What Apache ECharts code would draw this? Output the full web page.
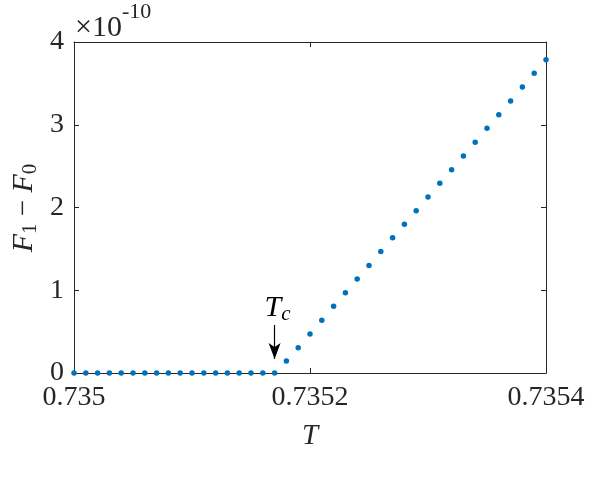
<!DOCTYPE html>
<html><head><meta charset="utf-8">
<script src="https://cdn.jsdelivr.net/npm/echarts@6/dist/echarts.min.js"></script>
<style>html,body{margin:0;padding:0;background:#fff}#c{width:598px;height:484px}</style>
</head><body><div id="c"></div>
<script>
// Temperature samples (T)
const tValues = [0.73500,0.73501,0.73502,0.73503,0.73504,0.73505,0.73506,0.73507,0.73508,0.73509,
  0.73510,0.73511,0.73512,0.73513,0.73514,0.73515,0.73516,0.73517,
  0.73518,0.73519,0.73520,0.73521,0.73522,0.73523,0.73524,0.73525,0.73526,0.73527,0.73528,0.73529,
  0.73530,0.73531,0.73532,0.73533,0.73534,0.73535,0.73536,0.73537,0.73538,0.73539,0.73540];
// F1 - F0 in units of 1e-10
const dF = [0,0,0,0,0,0,0,0,0,0,0,0,0,0,0,0,0,0,
  0.145,0.306,0.471,0.637,0.806,0.970,1.135,1.300,1.467,1.635,1.797,1.961,
  2.127,2.292,2.457,2.622,2.790,2.957,3.122,3.287,3.456,3.622,3.786];
const xTicks = [0.735, 0.7352, 0.7354];
const yTicks = [0, 1, 2, 3, 4];
const Tc = 0.73517;

const font = '"Liberation Serif", "Times New Roman", Times, serif';
const axisColor = '#262626';
const chart = echarts.init(document.getElementById('c'), null, {renderer:'canvas'});
const points = tValues.map((t,i)=>[t, dF[i]]);
const baseAxis = {
  axisLine:{show:true, onZero:false, lineStyle:{color:axisColor, width:1}},
  axisTick:{show:true, inside:true, length:5, lineStyle:{color:axisColor}},
  splitLine:{show:false}
};
chart.setOption({
  animation:false,
  grid:{left:74, right:52, top:42, bottom:111, containLabel:false},
  xAxis:[
    Object.assign({}, baseAxis, {type:'value', min:xTicks[0], max:xTicks[xTicks.length-1], interval:0.0002,
      position:'bottom',
      axisLabel:{show:true, color:axisColor, fontFamily:font, fontSize:28, margin:11,
        formatter:v=>v.toFixed(4).replace(/0+$/,'')},
      name:'T', nameLocation:'middle', nameGap:49,
      nameTextStyle:{fontFamily:font, fontStyle:'italic', fontSize:29, color:axisColor}}),
    Object.assign({}, baseAxis, {type:'value', min:xTicks[0], max:xTicks[xTicks.length-1], interval:0.0002,
      position:'top', axisLabel:{show:false}})
  ],
  yAxis:[
    Object.assign({}, baseAxis, {type:'value', min:yTicks[0], max:yTicks[yTicks.length-1], interval:1,
      position:'left',
      axisLabel:{show:true, color:axisColor, fontFamily:font, fontSize:28, margin:10}}),
    Object.assign({}, baseAxis, {type:'value', min:yTicks[0], max:yTicks[yTicks.length-1], interval:1,
      position:'right', axisLabel:{show:false}})
  ],
  series:[{
    type:'scatter', data:points, symbol:'circle', symbolSize:5.5,
    itemStyle:{color:'#0072BD', opacity:1},
    markLine:{
      silent:true, symbol:['none','arrow'], symbolSize:[9,16],
      label:{show:false},
      lineStyle:{color:'#000', width:1.2, type:'solid'},
      data:[[{coord:[Tc, 0.58]},{coord:[Tc, 0.17]}]]
    }
  }]
});
const p = chart.convertToPixel({xAxisIndex:0, yAxisIndex:0}, [Tc, 0.58]);
chart.setOption({
  graphic:[
    {type:'text', left:75, top:1, style:{
      text:'{a|×10}{b|-10}', rich:{
        a:{fontFamily:font, fontSize:30, fill:axisColor, padding:[12,0,0,0]},
        b:{fontFamily:font, fontSize:22, fill:axisColor, verticalAlign:'top', padding:[0,0,16,0]}
      }}},
    {type:'text', x:p[0]-10, y:p[1]-33, style:{
      text:'{t|T}{c|c}', rich:{
        t:{fontFamily:font, fontStyle:'italic', fontSize:30, fill:'#000'},
        c:{fontFamily:font, fontStyle:'italic', fontSize:21, fill:'#000', padding:[12,0,0,0]}
      }}},
    {type:'text', x:24, y:208, rotation:Math.PI/2, style:{
      text:'{f|F}{s|1}{m| − }{f|F}{s|0}', align:'center', verticalAlign:'middle', rich:{
        f:{fontFamily:font, fontStyle:'italic', fontSize:30, fill:axisColor},
        s:{fontFamily:font, fontSize:21, fill:axisColor, padding:[12,0,0,0]},
        m:{fontFamily:font, fontSize:29, fill:axisColor}
      }}}
  ]
});
</script></body></html>
